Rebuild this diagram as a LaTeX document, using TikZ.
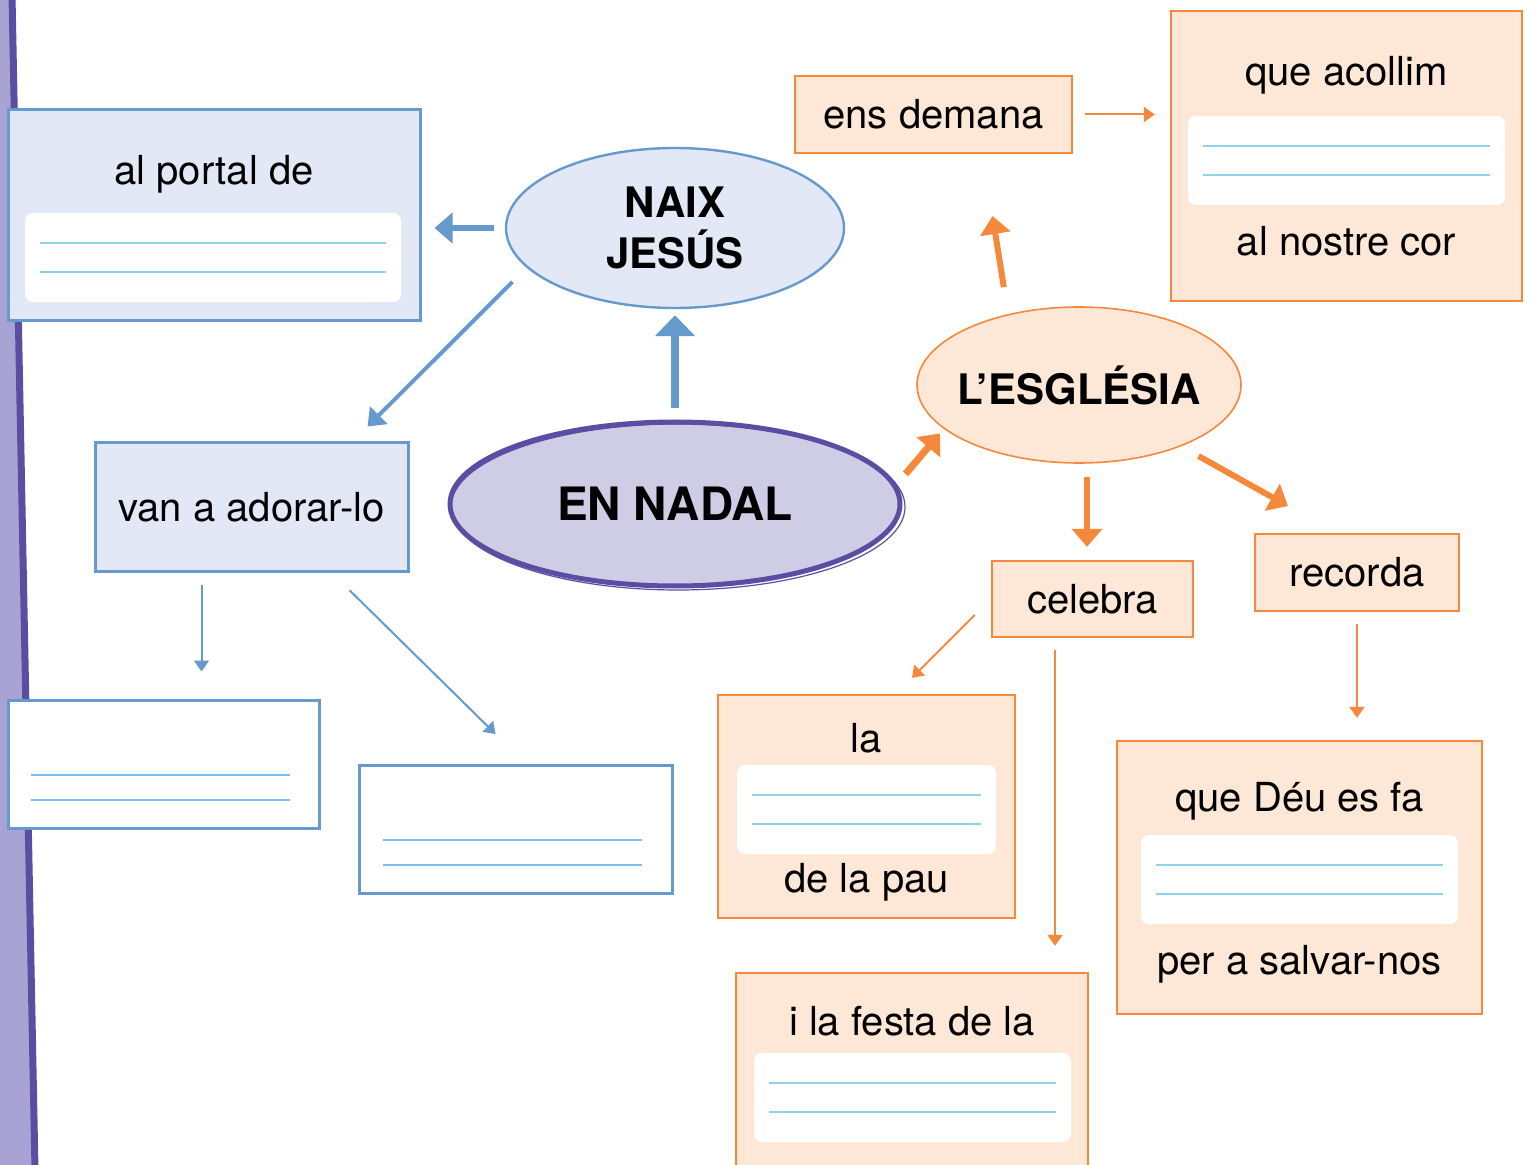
\documentclass[tikz,border=0pt]{standalone}
\usepackage{fontspec}
\setmainfont{TeX Gyre Heros}
\usetikzlibrary{shapes.geometric,arrows.meta}

\definecolor{blaufons}{HTML}{E2E8F6}
\definecolor{blauvora}{HTML}{6699CC}
\definecolor{taronjafons}{HTML}{FDE7D7}
\definecolor{taronjavora}{HTML}{F5883A}
\definecolor{liladons}{HTML}{CFCDE6}
\definecolor{lilafosc}{HTML}{5B4EA2}
\definecolor{lilaclar}{HTML}{A9A3D3}
\definecolor{liniablava}{HTML}{8DD3EE}

% espai blanc per escriure: x, y, amplada
\newcommand{\requadre}[3]{%
  \begin{scope}[shift={(#1,#2)}]
    \fill[white, rounded corners=4pt] (0,0) rectangle (#3,89);
    \draw[liniaesc] (15,30) -- (#3-15,30);
    \draw[liniaesc] (15,59) -- (#3-15,59);
  \end{scope}}

\begin{document}
\begin{tikzpicture}[x=0.5pt, y=-0.5pt,
    font=\fontsize{20pt}{24pt}\selectfont,
    caixablava/.style={rectangle, draw=blauvora, fill=blaufons, line width=1.5pt, inner sep=0pt},
    caixabuida/.style={caixablava, fill=white},
    caixataronja/.style={rectangle, draw=taronjavora, fill=taronjafons, line width=1.2pt, inner sep=0pt},
    lletra/.style={anchor=base, inner sep=0pt},
    el/.style={ellipse, inner sep=0pt, align=center, font=\fontsize{21pt}{25.5pt}\selectfont\bfseries},
    liniaesc/.style={draw=liniablava, line width=0.7pt},
    liniabuit/.style={draw=liniablava!90!blue, line width=1pt},
    fletxagran/.style={line width=3pt, -{Triangle[width=15pt,length=9pt]}},
    fletxapetita/.style={line width=1pt, -{Triangle[width=7.5pt,length=5.5pt]}}]
    \useasboundingbox (0,0) rectangle (1530,1165);

    % franja lila de l'esquerra
    \fill[lilaclar] (0,0) -- (10,0) -- (32,1165) -- (0,1165) -- cycle;
    \draw[lilafosc, line width=3.5pt] (12,-5) -- (35,1170);

    % el·lipses
    \node[el, draw=blauvora, fill=blaufons, line width=1.2pt, minimum width=169pt, minimum height=80pt] (naix) at (675,228) {NAIX\\JESÚS};
    \node[el, draw=lilafosc, fill=liladons, line width=2.5pt, minimum width=225pt, minimum height=82pt,
          font=\fontsize{23pt}{27pt}\selectfont\bfseries] (nadal) at (675,504) {EN NADAL};
    \draw[lilafosc, line width=0.6pt] (678,507) ellipse [x radius=113.5pt, y radius=41.5pt];
    \node[el, draw=taronjavora, fill=taronjafons, line width=0.8pt, inner xsep=-6pt, minimum width=162pt, minimum height=78pt] (esglesia) at (1079,385) {L’ESGLÉSIA};

    % caixes blaves
    \node[caixablava, minimum width=206pt, minimum height=105.5pt] (portal) at (214,215.5) {};
    \node[lletra] (portaltxt) at (214,185) {al portal de};
    \requadre{25}{213}{376}
    \node[caixablava, minimum width=156.5pt, minimum height=64pt] (adorar) at (251.5,507) {van a adorar-lo};
    \node[caixabuida, minimum width=155.5pt, minimum height=64pt] (buitA) at (163.5,764) {};
    \draw[liniabuit] (31,775) -- (290,775);
    \draw[liniabuit] (31,800) -- (290,800);
    \node[caixabuida, minimum width=156.5pt, minimum height=64pt] (buitB) at (515.5,829) {};
    \draw[liniabuit] (383,840) -- (642,840);
    \draw[liniabuit] (383,865) -- (642,865);

    % caixes taronja
    \node[caixataronja, minimum width=138.5pt, minimum height=38.5pt] (ens) at (933.5,114.5) {ens demana};
    \node[caixataronja, minimum width=175.5pt, minimum height=145pt] (acollim) at (1346.5,156) {};
    \node[lletra] (acollimtxt) at (1346.5,86) {que acollim};
    \requadre{1188}{116}{317}
    \node[lletra] (cortxt) at (1346.5,256) {al nostre cor};
    \node[caixataronja, minimum width=100.5pt, minimum height=38pt] (celebra) at (1092.5,599) {celebra};
    \node[caixataronja, minimum width=102pt, minimum height=38.5pt] (recorda) at (1357,572.5) {recorda};
    \node[caixataronja, minimum width=148.5pt, minimum height=111.5pt] (pau) at (866.5,806.5) {};
    \node[lletra] (latxt) at (866.5,752) {la};
    \requadre{737}{765}{259}
    \node[lletra] (pautxt) at (866.5,892) {de la pau};
    \node[caixataronja, minimum width=182.5pt, minimum height=136.5pt] (deu) at (1299.5,877.5) {};
    \node[lletra] (deutxt) at (1299.5,811) {que Déu es fa};
    \requadre{1141}{835}{317}
    \node[lletra] (salvartxt) at (1299.5,974) {per a salvar-nos};
    \node[caixataronja, minimum width=176pt, minimum height=103.5pt] (festa) at (912,1076.5) {};
    \node[lletra] (festatxt) at (912,1035) {i la festa de la};
    \requadre{754}{1053}{317}

    % fletxes blaves
    \draw[fletxagran, blauvora, line width=3.6pt, -{Triangle[width=19.5pt,length=10.5pt]}, shorten <=5.75pt, shorten >=3pt] (nadal.north) -- (naix.south);
    \draw[fletxagran, blauvora, shorten <=5.5pt, shorten >=6.5pt] (naix.west) -- (naix.west -| portal.east);
    \draw[fletxagran, blauvora, line width=2pt, -{Triangle[width=12pt,length=8pt]}, shorten <=10pt, shorten >=10.6pt] (naix.195) -- ([xshift=-28.5pt]adorar.north east);
    \draw[fletxapetita, blauvora, shorten <=6pt, shorten >=13.5pt] ([xshift=-25pt]adorar.south) -- ([xshift=-25pt]adorar.south |- buitA.north);
    \draw[fletxapetita, blauvora, shorten <=12.7pt, shorten >=21pt] ([xshift=-39pt]adorar.south east) -- ([xshift=5pt]buitB.north);

    % fletxes taronja
    \draw[fletxagran, taronjavora, line width=3.5pt, shorten <=7pt, shorten >=3pt] (nadal.5) -- (esglesia.198.6);
    \draw[fletxagran, taronjavora, shorten <=13.6pt, shorten >=31.3pt] (esglesia.135.8) -- ([xshift=24.6pt]ens.south);
    \draw[fletxagran, taronjavora, shorten <=6.5pt, shorten >=6.5pt] ([xshift=4pt]esglesia.south) -- ([xshift=4pt]esglesia.south |- celebra.north);
    \draw[fletxagran, taronjavora, shorten <=9.9pt, shorten >=27.5pt] (esglesia.-31.3) -- ([xshift=-10.5pt]recorda.north);
    \draw[fletxapetita, taronjavora, shorten <=6pt, shorten >=7.5pt] (ens.east) -- (ens.east -| acollim.west);
    \draw[fletxapetita, taronjavora, shorten <=11.3pt, shorten >=11.3pt] (celebra.west) -- ([xshift=14.75pt]pau.north);
    \draw[fletxapetita, taronjavora, shorten <=6pt, shorten >=13pt] ([xshift=-18.75pt]celebra.south) -- ([xshift=-18.75pt]celebra.south |- festa.north);
    \draw[fletxapetita, taronjavora, shorten <=6pt, shorten >=11pt] (recorda.south) -- (recorda.south |- deu.north);
\end{tikzpicture}
\end{document}
